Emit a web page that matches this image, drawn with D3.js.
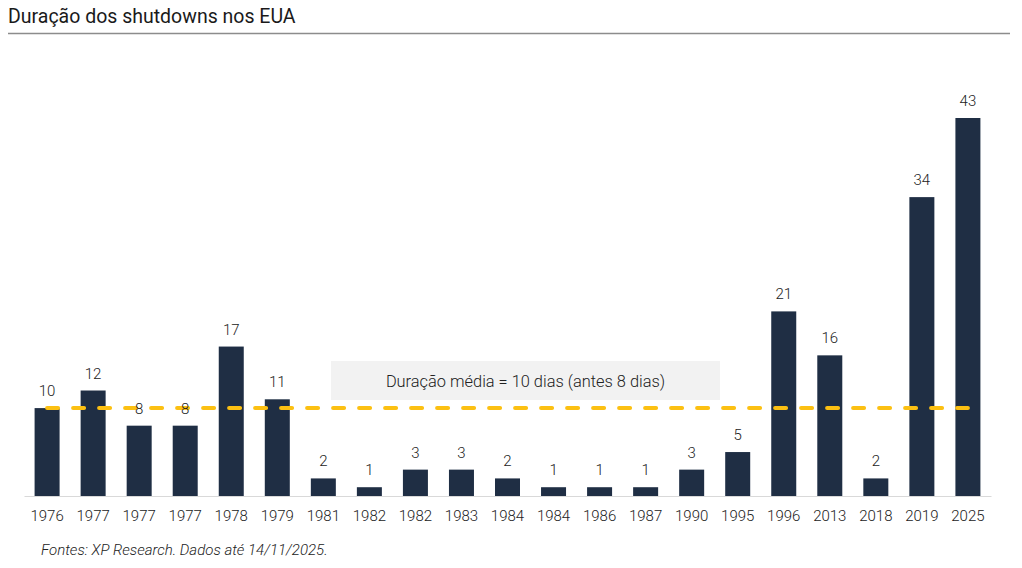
<!DOCTYPE html>
<html><head><meta charset="utf-8">
<script src="https://cdn.jsdelivr.net/npm/d3@7"></script>
<style>body{margin:0;background:#fff;} text{font-family:Roboto,"Noto Sans",sans-serif;}</style>
</head><body>
<svg id="c" width="1022" height="568"></svg>
<script>
const years = ["1976","1977","1977","1977","1978","1979","1981","1982","1982","1983","1984","1984","1986","1987","1990","1995","1996","2013","2018","2019","2025"];
const durations = [10,12,8,8,17,11,2,1,3,3,2,1,1,1,3,5,21,16,2,34,43];
const averageDays = 10;
const title = "Duração dos shutdowns nos EUA";
const note = "Duração média = 10 dias (antes 8 dias)";
const source = "Fontes: XP Research. Dados até 14/11/2025.";

const svg = d3.select("#c");
const idx = d3.range(years.length);
const x = d3.scaleBand().domain(idx).range([24, 991]).paddingInner(0.457).paddingOuter(0.23);
const y = d3.scaleLinear().domain([0, 43]).range([496, 118]);

// title
svg.append("text").attr("x", 8).attr("y", 23).attr("font-size", 19.5).attr("fill", "#1a1a1a").text(title);
svg.append("line").attr("x1", 8).attr("x2", 1010).attr("y1", 33.5).attr("y2", 33.5).attr("stroke", "#8c8c8c").attr("stroke-width", 1.5);

// bars
svg.append("g").selectAll("rect").data(idx).join("rect")
  .attr("x", i => x(i)).attr("width", x.bandwidth())
  .attr("y", i => y(durations[i])).attr("height", i => y(0) - y(durations[i]))
  .attr("fill", "#1f2e44");

// axis
const ax = svg.append("g").attr("transform", `translate(0,${y(0)})`)
  .call(d3.axisBottom(x).tickSize(0).tickPadding(14).tickFormat(i => years[i]));
ax.select(".domain").attr("stroke", "#d9d9d9").attr("stroke-width", 1.2);
ax.selectAll("text").attr("font-size", 15).attr("font-weight", 300).attr("fill", "#222").attr("font-family", "Roboto");

// annotation box
svg.append("rect").attr("x", 331).attr("y", 361).attr("width", 389).attr("height", 39).attr("fill", "#f2f2f2");
svg.append("text").attr("x", 525.5).attr("y", 387).attr("text-anchor", "middle").attr("font-size", 16.4).attr("font-weight", 300).attr("fill", "#222").text(note);

// average line
const cx0 = x(0) + x.bandwidth()/2, cx1 = x(idx.length-1) + x.bandwidth()/2;
svg.append("line").attr("x1", cx0).attr("x2", cx1).attr("y1", y(averageDays)).attr("y2", y(averageDays))
  .attr("stroke", "#fcc012").attr("stroke-width", 4).attr("stroke-linecap", "round").attr("stroke-dasharray", "11,15");

// value labels
svg.append("g").selectAll("text").data(idx).join("text")
  .attr("x", i => x(i) + x.bandwidth()/2).attr("y", i => y(durations[i]) - 12)
  .attr("text-anchor", "middle").attr("font-size", 15).attr("font-weight", 300).attr("fill", "#222").text(i => durations[i]);

// source
svg.append("text").attr("x", 41).attr("y", 555).attr("font-size", 15).attr("font-weight", 300).attr("font-style", "italic").attr("fill", "#222").text(source);
</script>
</body></html>
